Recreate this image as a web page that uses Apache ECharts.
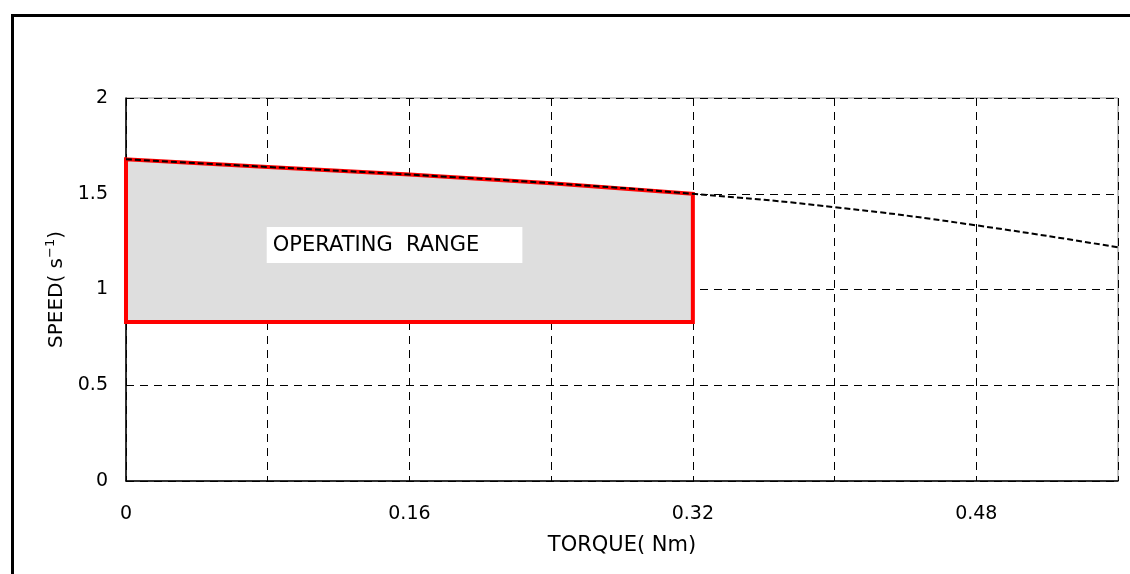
<!DOCTYPE html>
<html>
<head>
<meta charset="utf-8">
<script src="https://cdn.jsdelivr.net/npm/echarts@6/dist/echarts.min.js"></script>
<style>
  html, body { margin: 0; padding: 0; background: #fff; }
  #chart { width: 1130px; height: 574px; }
</style>
</head>
<body>
<div id="chart"></div>
<script>
// 速度特性曲线 (torque -> speed)
const torque = [0, 0.08, 0.16, 0.24, 0.32, 0.40, 0.48, 0.56];
const speed = [1.68, 1.64, 1.60, 1.555, 1.50, 1.43, 1.335, 1.22];
// operating range: torque 0 ~ 0.32, speed from lower limit up to the curve
const rangeMaxTorque = 0.32;
const rangeMinSpeed = 0.83;
const rangeLabel = 'OPERATING  RANGE';
const rangeLabelPos = [0.1516, 1.232];

const font = 'DejaVu Sans, Liberation Sans, sans-serif';

let curve = torque.map((t, i) => [t, speed[i]]);

// polygon of operating range
let rangePts = [[0, rangeMinSpeed]];
curve.forEach(p => {
    if (p[0] <= rangeMaxTorque) rangePts.push(p);
});
rangePts.push([rangeMaxTorque, rangeMinSpeed]);

const chart = echarts.init(document.getElementById('chart'));
const option = {
    animation: false,
    backgroundColor: '#fff',
    graphic: [{
        type: 'rect',
        left: 10,
        top: 13,
        shape: { width: 1200, height: 700 },
        style: { fill: 'none', stroke: '#000', lineWidth: 3 },
        z: 100
    }],
    grid: {
        left: 126,
        top: 98,
        right: 12,
        bottom: 93,
        show: true,
        borderColor: '#8c8c8c',
        borderWidth: 1
    },
    xAxis: {
        type: 'value',
        min: 0,
        max: 0.56,
        interval: 0.08,
        name: 'TORQUE( Nm)',
        nameLocation: 'middle',
        nameGap: 54,
        nameTextStyle: { fontFamily: font, fontSize: 21, color: '#000' },
        axisLine: { show: true, lineStyle: { color: '#000', width: 1.5 } },
        axisTick: { show: false },
        axisLabel: {
            margin: 24,
            fontFamily: font,
            fontSize: 19,
            color: '#000',
            showMaxLabel: false,
            formatter: function(v) {
                let k = Math.round(v / 0.08);
                return k % 2 === 0 ? String(+v.toFixed(2)) : '';
            }
        },
        splitLine: { show: true, lineStyle: { color: '#000', type: [8, 6], width: 1 } }
    },
    yAxis: {
        type: 'value',
        min: 0,
        max: 2,
        interval: 0.5,
        name: '{a|SPEED( s}{sup|−1}{a|)}',
        nameLocation: 'middle',
        nameGap: 53,
        nameTextStyle: {
            fontFamily: font,
            fontSize: 20,
            color: '#000',
            rich: {
                a: { fontFamily: font, fontSize: 20, color: '#000' },
                sup: { fontFamily: font, fontSize: 13, color: '#000', verticalAlign: 'top', padding: [0, 0, 12, 0] }
            }
        },
        axisLine: { show: true, lineStyle: { color: '#000', width: 1.5 } },
        axisTick: { show: false },
        axisLabel: { margin: 18, fontFamily: font, fontSize: 19, color: '#000' },
        splitLine: { show: true, lineStyle: { color: '#000', type: [8, 6], width: 1 } }
    },
    series: [{
        // 运行范围 填充 + 红色边框
        type: 'custom',
        renderItem: function(params, api) {
            let pts = rangePts.map(p => api.coord(p));
            return {
                type: 'polygon',
                shape: { points: pts },
                style: { fill: '#dedede', stroke: '#ff0000', lineWidth: 4, lineJoin: 'miter' }
            };
        },
        data: [0],
        z: 3
    }, {
        type: 'line',
        data: curve,
        symbol: 'none',
        smooth: true,
        lineStyle: { color: '#000', width: 2, type: [6, 3] },
        z: 4
    }, {
        type: 'scatter',
        data: [rangeLabelPos],
        symbolSize: 0,
        itemStyle: { opacity: 1 },
        z: 5,
        label: {
            show: true,
            position: 'inside',
            formatter: rangeLabel,
            fontFamily: font,
            fontSize: 21,
            color: '#000',
            opacity: 1,
            backgroundColor: '#fff',
            padding: [8, 43, 7, 6]
        }
    }]
};
chart.setOption(option);
</script>
</body>
</html>
